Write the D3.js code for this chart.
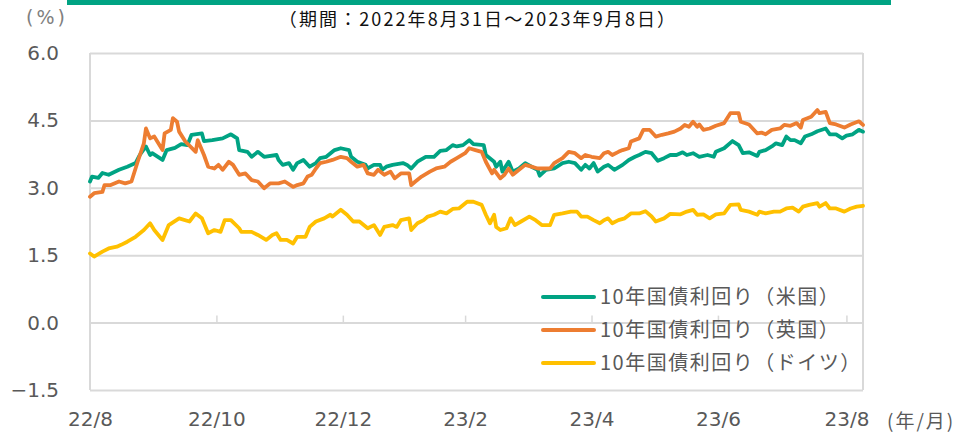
<!DOCTYPE html>
<html>
<head>
<meta charset="utf-8">
<script src="https://cdn.jsdelivr.net/npm/d3@7"></script>
<style>
  html, body { margin: 0; padding: 0; background: #fff; }
  svg { display: block; }
</style>
</head>
<body>
<div id="chart"></div>
<script>
// ==== データ ====
const startDate = new Date(2022, 7, 31);   // 2022/8/31
const endDate   = new Date(2023, 8, 8);    // 2023/9/8

// days since 2022/8/31, yield (%)
const usDays = [0,1,4,6,9,14,18,22,24,27,29,30,35,37,41,44,47,49,54,55,59,64,68,71,72,76,78,81,84,90,91,93,96,98,100,103,106,109,111,114,118,121,125,126,129,133,134,137,140,141,143,146,151,153,155,158,162,166,169,172,175,177,180,183,185,190,191,195,196,198,199,202,204,207,210,213,216,217,220,224,228,231,234,237,239,241,243,245,248,250,253,257,260,263,265,268,271,274,277,280,283,286,288,291,294,298,301,302,306,310,313,315,318,322,323,326,329,331,334,336,338,340,343,345,348,351,355,357,360,363,365,368,371,373];
const usYield = [3.14,3.25,3.22,3.33,3.29,3.40,3.47,3.55,3.73,3.92,3.73,3.77,3.62,3.84,3.89,3.97,3.95,4.18,4.21,4.04,4.06,4.10,4.19,4.10,3.84,3.80,3.69,3.80,3.69,3.73,3.62,3.51,3.55,3.40,3.55,3.62,3.47,3.55,3.66,3.69,3.84,3.88,3.84,3.69,3.58,3.51,3.43,3.51,3.51,3.40,3.47,3.51,3.55,3.51,3.43,3.58,3.69,3.69,3.82,3.84,3.95,3.92,3.95,4.06,3.97,3.95,3.73,3.58,3.47,3.58,3.36,3.58,3.36,3.43,3.55,3.47,3.40,3.27,3.40,3.43,3.55,3.58,3.55,3.40,3.51,3.43,3.55,3.36,3.47,3.51,3.40,3.51,3.62,3.69,3.73,3.80,3.77,3.60,3.66,3.73,3.73,3.79,3.73,3.77,3.69,3.73,3.69,3.80,3.88,4.04,3.95,3.77,3.79,3.71,3.80,3.84,3.92,3.99,3.95,4.14,4.06,4.06,3.99,4.14,4.19,4.26,4.32,4.19,4.19,4.10,4.16,4.19,4.29,4.25];

const ukDays = [0,2,6,7,10,14,17,20,23,26,27,29,31,35,36,39,40,42,43,46,51,52,55,57,60,62,64,67,69,72,75,78,81,84,87,91,94,98,100,103,105,107,109,111,114,117,121,124,126,129,132,134,137,139,142,145,147,150,154,155,157,160,164,167,171,174,177,181,183,186,189,191,194,195,198,200,202,204,207,210,213,216,222,224,228,231,234,237,239,242,246,248,250,252,255,257,260,261,265,267,270,273,276,279,282,285,287,289,291,293,294,296,299,302,306,309,313,314,318,322,324,326,329,333,335,338,341,343,344,348,351,352,355,357,360,364,367,371,373];
const ukYield = [2.80,2.88,2.91,3.06,3.06,3.14,3.10,3.14,3.58,3.99,4.32,4.10,4.14,3.84,4.21,4.29,4.55,4.47,4.25,4.03,3.80,4.06,3.73,3.47,3.43,3.51,3.40,3.58,3.51,3.29,3.32,3.17,3.14,2.99,3.10,3.10,3.14,3.02,3.06,3.10,3.25,3.29,3.43,3.55,3.58,3.62,3.69,3.66,3.58,3.47,3.51,3.32,3.29,3.40,3.29,3.36,3.21,3.32,3.32,3.06,3.14,3.25,3.36,3.43,3.47,3.58,3.66,3.77,3.88,3.84,3.80,3.58,3.32,3.40,3.21,3.29,3.43,3.29,3.40,3.51,3.47,3.43,3.43,3.55,3.66,3.80,3.77,3.66,3.73,3.69,3.66,3.77,3.80,3.73,3.80,3.84,3.88,4.03,4.10,4.29,4.29,4.14,4.18,4.21,4.25,4.32,4.40,4.36,4.47,4.36,4.41,4.29,4.32,4.38,4.44,4.66,4.66,4.47,4.41,4.21,4.23,4.19,4.29,4.32,4.40,4.38,4.44,4.34,4.51,4.58,4.73,4.66,4.69,4.44,4.41,4.34,4.41,4.48,4.40];

const deDays = [0,2,6,9,13,15,18,22,26,29,31,35,38,43,48,51,54,57,60,63,65,68,72,73,78,81,85,88,90,92,95,98,100,104,106,109,113,116,117,121,124,127,130,134,137,140,142,146,148,150,154,155,158,161,163,166,169,172,175,178,182,185,189,191,193,195,196,198,201,203,205,208,212,215,218,222,224,228,232,235,237,240,243,246,248,250,252,255,258,261,265,268,271,273,277,280,285,288,291,293,296,299,302,306,309,313,314,318,322,323,326,330,333,336,339,342,344,347,351,352,355,357,360,364,367,370,373];
const deYield = [1.54,1.47,1.58,1.65,1.69,1.73,1.80,1.91,2.06,2.21,2.06,1.84,2.17,2.32,2.25,2.43,2.32,1.99,2.06,2.02,2.28,2.28,2.10,2.02,2.02,1.95,1.84,1.95,1.99,1.84,1.84,1.76,1.91,1.91,2.13,2.25,2.32,2.40,2.36,2.51,2.40,2.25,2.25,2.10,2.17,1.95,2.13,2.17,2.13,2.28,2.32,2.06,2.21,2.28,2.36,2.40,2.47,2.43,2.53,2.54,2.69,2.69,2.62,2.40,2.21,2.40,2.13,2.06,2.10,2.32,2.17,2.25,2.36,2.28,2.17,2.17,2.40,2.43,2.47,2.47,2.36,2.36,2.28,2.21,2.28,2.32,2.21,2.28,2.32,2.43,2.43,2.48,2.36,2.25,2.32,2.42,2.41,2.47,2.51,2.40,2.41,2.32,2.41,2.43,2.62,2.63,2.51,2.47,2.40,2.47,2.43,2.47,2.47,2.54,2.56,2.47,2.58,2.62,2.66,2.58,2.66,2.54,2.54,2.47,2.54,2.58,2.60];

const seriesNames  = ['10年国債利回り（米国）', '10年国債利回り（英国）', '10年国債利回り（ドイツ）'];
const seriesColors = ['#00a383', '#ed7d31', '#ffc000'];

const yTicks     = [-1.5, 0, 1.5, 3.0, 4.5, 6.0];
const xTickDates = ['2022-08-31','2022-10-31','2022-12-31','2023-02-28','2023-04-30','2023-06-30','2023-08-31'];
const xTickLabels = ['22/8','22/10','22/12','23/2','23/4','23/6','23/8'];

const titleText = '（期間：2022年8月31日～2023年9月8日）';

// ==== 描画 ====
const W = 975, H = 435;
const plot = { left: 90, right: 863, top: 53, bottom: 390 };
const gray = '#595959', gridCol = '#d9d9d9';

const svg = d3.select('#chart').append('svg')
  .attr('width', W).attr('height', H);

const x = d3.scaleTime().domain([startDate, endDate]).range([plot.left, plot.right]);
const y = d3.scaleLinear().domain([-1.5, 6.0]).range([plot.bottom, plot.top]);

const parseD = d3.timeParse('%Y-%m-%d');
const tickDates = xTickDates.map(parseD);

// top bar + title
svg.append('rect').attr('x', 67).attr('y', 0).attr('width', 824).attr('height', 5)
  .attr('fill', seriesColors[0]);
svg.append('text').attr('x', 478).attr('y', 26).attr('text-anchor', 'middle')
  .style('font-family', '"Noto Sans CJK JP", sans-serif').style('font-size', '18px')
  .style('letter-spacing', '2.1px').attr('fill', '#111').text(titleText);

// unit labels
svg.append('text').attr('x', 26).attr('y', 24)
  .style('font-family', '"DejaVu Sans", sans-serif').style('font-size', '19px')
  .style('letter-spacing', '3px').attr('fill', '#808080').text('(%)');
svg.append('text').attr('x', 887).attr('y', 428)
  .style('font-family', '"Noto Sans CJK JP", sans-serif').style('font-size', '19px')
  .style('letter-spacing', '2px').attr('fill', gray).text('(年/月)');

// grid lines
svg.append('g')
  .attr('transform', `translate(${plot.left},0)`)
  .call(d3.axisLeft(y).tickValues(yTicks).tickSize(-(plot.right - plot.left)).tickFormat(''))
  .call(g => g.select('.domain').remove())
  .selectAll('line').attr('stroke', gridCol).attr('stroke-width', 2);

// plot border (left / right)
[plot.left, plot.right].forEach(px => {
  svg.append('line').attr('x1', px).attr('x2', px).attr('y1', plot.top).attr('y2', plot.bottom)
    .attr('stroke', gridCol).attr('stroke-width', 2);
});

// month ticks on the zero line
svg.append('g')
  .attr('transform', `translate(0,${y(0)})`)
  .call(d3.axisTop(x).tickValues(tickDates.slice(1)).tickSize(7).tickFormat(''))
  .call(g => g.select('.domain').remove())
  .selectAll('line').attr('stroke', gridCol).attr('stroke-width', 1.5);

// y labels
svg.append('g')
  .attr('transform', `translate(${plot.left},0)`)
  .call(d3.axisLeft(y).tickValues(yTicks).tickSize(0).tickPadding(31).tickFormat(d3.format('.1f')))
  .call(g => g.select('.domain').remove())
  .selectAll('text')
    .attr('fill', gray)
    .style('font-family', '"DejaVu Sans", sans-serif')
    .style('font-size', '20px');

// x labels
svg.append('g')
  .attr('transform', `translate(0,${plot.bottom})`)
  .call(d3.axisBottom(x).tickValues(tickDates).tickSize(0).tickPadding(22)
    .tickFormat((d, i) => xTickLabels[i]))
  .call(g => g.select('.domain').remove())
  .selectAll('text')
    .attr('fill', gray)
    .style('font-family', '"DejaVu Sans", sans-serif')
    .style('font-size', '20px');

// lines
const series = [
  usDays.map((d, i) => [d, usYield[i]]),
  ukDays.map((d, i) => [d, ukYield[i]]),
  deDays.map((d, i) => [d, deYield[i]])
];
const line = d3.line()
  .x(p => x(d3.timeDay.offset(startDate, p[0])))
  .y(p => y(p[1]));

series.forEach((s, i) => {
  svg.append('path').datum(s)
    .attr('d', line)
    .attr('fill', 'none')
    .attr('stroke', seriesColors[i])
    .attr('stroke-width', 3.8)
    .attr('stroke-linejoin', 'round')
    .attr('stroke-linecap', 'round');
});

// legend
const lg = svg.append('g').attr('transform', 'translate(543,297)');
seriesNames.forEach((name, i) => {
  const row = lg.append('g').attr('transform', `translate(0,${i * 33})`);
  row.append('line').attr('x1', 0).attr('x2', 51).attr('y1', 0).attr('y2', 0)
    .attr('stroke', seriesColors[i]).attr('stroke-width', 4).attr('stroke-linecap', 'round');
  row.append('text').attr('x', 57).attr('y', 0).attr('dy', '0.36em')
    .style('font-family', '"Noto Sans CJK JP", sans-serif').style('font-size', '20px')
    .style('letter-spacing', '1.5px')
    .attr('fill', gray).text(name);
});
</script>
</body>
</html>
